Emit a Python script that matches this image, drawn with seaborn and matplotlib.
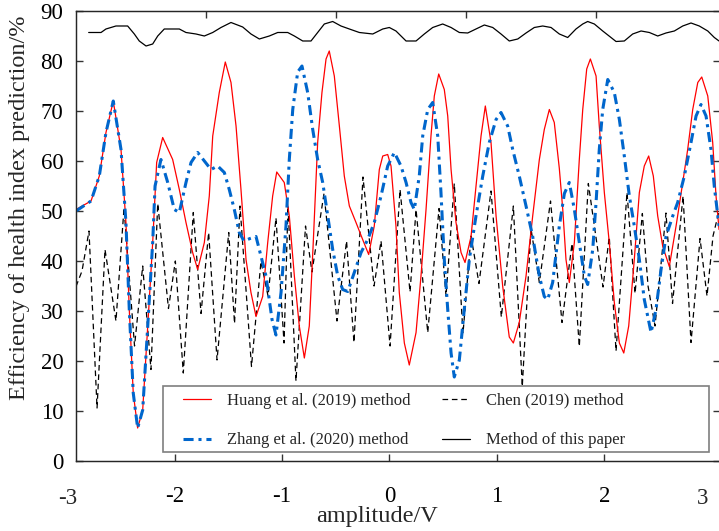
import seaborn as sns
import matplotlib.pyplot as plt
from matplotlib.lines import Line2D
from matplotlib.patches import Rectangle
from matplotlib.legend_handler import HandlerLine2D

# Huang et al. (2019) method
huang_x = [-2.918, -2.778, -2.701, -2.639, -2.571, -2.499, -2.453, -2.422, -2.385, -2.344,
           -2.297, -2.250, -2.204, -2.167, -2.111, -2.018, -1.956, -1.894, -1.832, -1.785,
           -1.723, -1.677, -1.645, -1.584, -1.528, -1.475, -1.428, -1.382, -1.335, -1.289,
           -1.242, -1.180, -1.133, -1.087, -1.049, -0.979, -0.932, -0.885, -0.839, -0.792,
           -0.746, -0.709, -0.668, -0.628, -0.590, -0.560, -0.513, -0.466, -0.420, -0.373,
           -0.311, -0.249, -0.193, -0.141, -0.094, -0.062, -0.016, 0.015, 0.061, 0.092,
           0.139, 0.185, 0.248, 0.294, 0.341, 0.387, 0.418, 0.459, 0.511, 0.543,
           0.574, 0.620, 0.667, 0.704, 0.760, 0.806, 0.853, 0.893, 0.946, 0.993,
           1.055, 1.116, 1.154, 1.209, 1.272, 1.334, 1.396, 1.442, 1.489, 1.535,
           1.582, 1.614, 1.644, 1.675, 1.722, 1.768, 1.800, 1.837, 1.871, 1.924,
           1.954, 2.001, 2.047, 2.094, 2.141, 2.182, 2.228, 2.280, 2.327, 2.373,
           2.414, 2.457, 2.498, 2.545, 2.606, 2.669, 2.731, 2.777, 2.824, 2.871,
           2.908, 2.964, 3.010, 3.041, 3.069]
huang_y = [50.3, 52.0, 57.0, 65.7, 72.0, 62.3, 47.7, 30.3, 13.6, 6.6,
           10.2, 27.0, 43.7, 59.7, 64.7, 60.3, 54.3, 47.7, 41.7, 38.3,
           43.7, 53.0, 65.0, 73.7, 79.8, 75.7, 67.0, 54.3, 40.3, 33.7,
           28.9, 32.9, 43.7, 53.0, 57.8, 55.7, 49.0, 37.0, 27.0, 20.6,
           27.0, 43.7, 63.7, 73.7, 80.4, 82.0, 77.0, 67.0, 57.0, 51.0,
           47.7, 44.3, 41.3, 47.0, 58.3, 61.0, 61.3, 59.0, 47.0, 33.7,
           23.6, 19.2, 25.7, 37.0, 50.3, 65.0, 73.0, 77.4, 74.3, 69.0,
           58.3, 47.7, 41.7, 39.7, 44.9, 54.9, 65.0, 71.0, 63.7, 49.0,
           34.9, 24.8, 23.6, 27.7, 37.0, 49.0, 60.3, 66.3, 70.3, 67.7,
           58.5, 50.3, 40.3, 35.7, 43.7, 60.3, 70.3, 78.4, 80.4, 77.0,
           67.0, 53.7, 43.7, 31.7, 23.6, 21.6, 27.0, 40.3, 53.7, 59.0,
           61.0, 57.0, 49.0, 42.9, 38.9, 47.0, 55.7, 62.3, 70.3, 75.7,
           76.8, 73.0, 63.7, 53.0, 46.3]

# Zhang et al. (2020) method
zhang_x = [-2.918, -2.778, -2.701, -2.639, -2.571, -2.499, -2.453, -2.422, -2.385, -2.344,
           -2.297, -2.250, -2.204, -2.182, -2.127, -2.064, -2.003, -1.956, -1.894, -1.847,
           -1.785, -1.723, -1.661, -1.599, -1.537, -1.491, -1.444, -1.398, -1.354, -1.298,
           -1.242, -1.149, -1.093, -1.056, -1.009, -0.963, -0.932, -0.900, -0.854, -0.814,
           -0.761, -0.714, -0.668, -0.621, -0.574, -0.528, -0.481, -0.435, -0.388, -0.327,
           -0.264, -0.202, -0.141, -0.078, -0.016, 0.046, 0.108, 0.155, 0.201, 0.232,
           0.278, 0.310, 0.357, 0.403, 0.450, 0.480, 0.511, 0.543, 0.574, 0.604,
           0.651, 0.697, 0.744, 0.806, 0.869, 0.930, 0.993, 1.039, 1.101, 1.148,
           1.209, 1.272, 1.334, 1.396, 1.442, 1.474, 1.520, 1.582, 1.629, 1.675,
           1.722, 1.768, 1.815, 1.846, 1.893, 1.924, 1.954, 1.986, 2.033, 2.094,
           2.141, 2.187, 2.234, 2.280, 2.327, 2.373, 2.436, 2.482, 2.529, 2.575,
           2.638, 2.684, 2.746, 2.808, 2.855, 2.901, 2.948, 2.994, 3.025, 3.069]
zhang_y = [50.0, 52.0, 57.0, 65.7, 72.0, 62.3, 47.7, 30.3, 13.6, 6.6,
           10.2, 27.0, 43.7, 55.0, 60.3, 55.7, 50.3, 49.7, 55.7, 59.7,
           61.7, 60.0, 58.3, 59.0, 57.7, 54.3, 50.3, 45.7, 44.0, 44.5,
           44.9, 37.0, 28.3, 25.2, 33.7, 47.0, 60.3, 70.3, 77.8, 79.0,
           73.7, 66.3, 60.3, 55.7, 49.0, 42.3, 37.0, 34.3, 33.9, 37.7,
           41.7, 44.3, 47.7, 53.0, 59.0, 61.7, 59.0, 55.7, 51.7, 50.3,
           57.0, 65.0, 70.3, 71.7, 65.0, 53.7, 40.3, 30.3, 21.6, 16.8,
           20.2, 30.3, 40.3, 49.0, 57.0, 63.7, 68.3, 69.7, 67.0, 62.3,
           57.0, 51.0, 44.9, 37.0, 32.9, 32.3, 35.7, 47.0, 53.5, 55.7,
           50.3, 43.7, 37.0, 35.3, 42.3, 51.7, 62.3, 70.3, 76.3, 73.7,
           68.3, 61.0, 53.0, 47.0, 40.3, 32.3, 25.7, 30.3, 38.3, 44.9,
           49.0, 51.7, 57.0, 63.7, 69.0, 71.3, 69.0, 62.3, 54.9, 47.0]

# Chen (2019) method
chen_x = [-2.918, -2.862, -2.797, -2.722, -2.648, -2.546, -2.471, -2.373, -2.297, -2.220,
          -2.157, -2.057, -1.993, -1.919, -1.826, -1.754, -1.683, -1.605, -1.496, -1.442,
          -1.391, -1.284, -1.196, -1.130, -1.056, -0.981, -0.944, -0.870, -0.781, -0.721,
          -0.609, -0.488, -0.399, -0.330, -0.246, -0.143, -0.078, 0.006, 0.099, 0.192,
          0.248, 0.357, 0.462, 0.527, 0.604, 0.685, 0.760, 0.834, 0.946, 1.042,
          1.154, 1.237, 1.318, 1.396, 1.500, 1.607, 1.700, 1.768, 1.852, 1.989,
          2.047, 2.110, 2.212, 2.287, 2.355, 2.408, 2.473, 2.575, 2.636, 2.734,
          2.808, 2.892, 2.957, 3.013, 3.069]
chen_y = [34.9, 38.0, 46.0, 10.6, 42.3, 28.0, 50.6, 23.0, 39.0, 18.3,
          51.5, 30.5, 40.0, 17.6, 49.7, 29.5, 45.7, 20.2, 45.7, 27.5,
          51.0, 18.9, 39.9, 33.0, 48.6, 23.6, 51.0, 16.0, 47.0, 37.8,
          53.5, 28.0, 44.0, 23.7, 56.8, 35.0, 44.0, 23.0, 54.3, 33.8,
          50.3, 25.7, 50.5, 33.0, 55.5, 25.5, 45.0, 35.5, 54.0, 28.8,
          51.0, 14.9, 46.5, 35.7, 52.0, 27.7, 43.5, 22.9, 55.5, 34.8,
          44.8, 22.0, 53.7, 33.5, 49.5, 35.0, 27.0, 49.6, 31.5, 53.0,
          23.7, 44.5, 33.0, 45.0, 50.0]

# Method of this paper
paper_x = [-2.800, -2.685, -2.639, -2.546, -2.437, -2.375, -2.329, -2.266, -2.204, -2.157,
           -2.096, -2.018, -1.956, -1.894, -1.801, -1.723, -1.645, -1.568, -1.475, -1.366,
           -1.289, -1.211, -1.118, -1.040, -0.947, -0.885, -0.807, -0.730, -0.668, -0.606,
           -0.528, -0.451, -0.373, -0.280, -0.155, -0.062, -0.001, 0.061, 0.155, 0.248,
           0.325, 0.403, 0.496, 0.574, 0.651, 0.729, 0.806, 0.884, 0.962, 1.039,
           1.116, 1.195, 1.272, 1.349, 1.427, 1.505, 1.582, 1.660, 1.737, 1.800,
           1.846, 1.908, 1.986, 2.063, 2.110, 2.187, 2.265, 2.343, 2.420, 2.498,
           2.575, 2.653, 2.731, 2.808, 2.885, 2.964, 3.025, 3.069]
paper_y = [85.7, 85.7, 86.4, 87.0, 87.0, 85.4, 84.0, 83.0, 83.4, 85.0,
           86.4, 86.4, 86.4, 85.7, 85.4, 85.0, 85.7, 86.7, 87.7, 86.8,
           85.4, 84.4, 85.0, 85.7, 85.7, 85.0, 84.0, 84.0, 85.7, 87.4,
           87.9, 87.0, 86.4, 85.7, 85.4, 86.4, 86.7, 86.0, 84.0, 84.0,
           85.4, 86.7, 87.4, 86.7, 85.7, 85.6, 86.4, 87.2, 86.7, 85.4,
           84.0, 84.4, 85.6, 86.7, 87.0, 86.7, 85.4, 84.7, 86.4, 87.4,
           87.9, 87.4, 86.0, 84.7, 83.9, 84.0, 85.4, 86.0, 85.7, 85.0,
           85.6, 86.0, 87.0, 87.6, 87.0, 86.0, 84.7, 84.0]

labels = ["Huang et al. (2019) method", "Chen (2019) method",
          "Zhang et al. (2020) method", "Method of this paper"]
y_ticks = [0, 10, 20, 30, 40, 50, 60, 70, 80, 90]
x_ticks = [-2, -1, 0, 1, 2]

sns.set_style("ticks")
plt.rcParams["font.family"] = ["Liberation Serif", "DejaVu Serif"]
plt.rcParams["axes.unicode_minus"] = False

fig = plt.figure(figsize=(7.19, 5.31), dpi=100)
ax = fig.add_axes([0.1057, 0.1318, 0.8957, 0.8475])

sns.lineplot(x=paper_x, y=paper_y, ax=ax, color="black", linewidth=0.9,
             sort=False, estimator=None)
sns.lineplot(x=chen_x, y=chen_y, ax=ax, color="black", linewidth=0.9,
             linestyle=(0, (4.5, 3)), sort=False, estimator=None)
sns.lineplot(x=huang_x, y=huang_y, ax=ax, color="#ff0000", linewidth=0.9,
             sort=False, estimator=None)
sns.lineplot(x=zhang_x, y=zhang_y, ax=ax, color="#0066cc", linewidth=2.2,
             linestyle=(0, (3.3, 1.6, 1.0, 1.6)), sort=False, estimator=None)
l_paper, l_chen, l_huang, l_zhang = ax.get_lines()[:4]

ax.set_xlim(-2.918, 3.078)
ax.set_ylim(0, 90)
ax.set_xticks(x_ticks)
ax.set_yticks(y_ticks)
ax.tick_params(direction="in", length=5, width=1, colors="#333333",
               labelcolor="black", labelsize=16.5, right=True, top=False)
ax.tick_params(axis="x", pad=18)
ax.tick_params(axis="y", pad=9)
ax.text(-3.0, -0.06, "-3", transform=ax.get_xaxis_transform(), ha="center",
        va="top", fontsize=16.5)
ax.text(2.92, -0.06, "3", transform=ax.get_xaxis_transform(), ha="center",
        va="top", fontsize=16.5)
for s in ax.spines.values():
    s.set_color("#333333")
    s.set_linewidth(1.0)

top = ax.twiny()
top.set_xlim(0, 4.95)
top.set_xticks([1, 2, 3, 4])
top.tick_params(direction="in", length=5, width=1, colors="#333333",
                labeltop=False)

ax.set_xlabel("amplitude/V", fontsize=17.5)
ax.set_ylabel("Efficiency of health index prediction/%", fontsize=17.5)
ax.xaxis.set_label_coords(0.467, -0.101)
ax.yaxis.set_label_coords(-0.0715, 0.562)

ax.add_patch(Rectangle((0.1353, 0.02), 0.8476, 0.1467, transform=ax.transAxes,
                       facecolor="white", edgecolor="#7f7f7f", linewidth=1.2,
                       zorder=4.5))
ax.legend(handles=[l_huang, l_zhang, l_chen, l_paper],
          labels=[labels[0], labels[2], labels[1], labels[3]],
          ncol=2, loc="upper left", bbox_to_anchor=(0.1353, 0.160),
          frameon=False, fontsize=12, borderpad=0.23, labelspacing=1.41,
          handlelength=2.67, handletextpad=0.95, columnspacing=0.9,
          borderaxespad=0, handler_map={Line2D: HandlerLine2D(xpad=0.96)})

fig.savefig("out.png", dpi=100)
